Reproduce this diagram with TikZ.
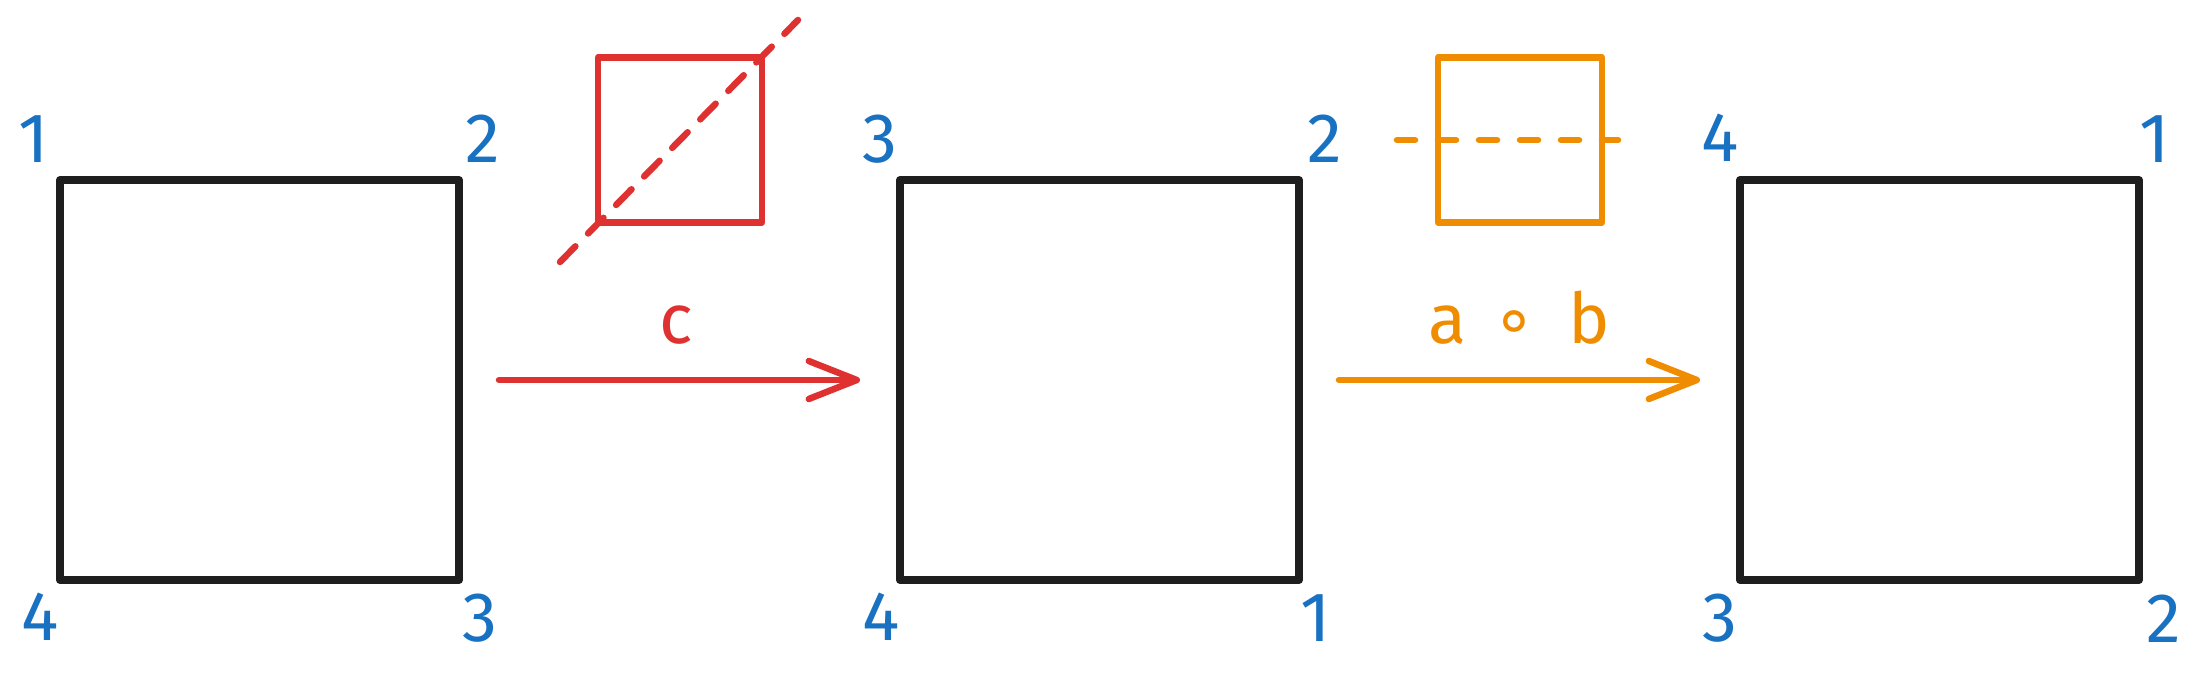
\documentclass[tikz,border=0pt]{standalone}
\usepackage{fontspec}
\setmainfont{Fira Sans}
\newfontfamily\symfont{DejaVu Sans}
\usetikzlibrary{arrows.meta}
\definecolor{ink}{HTML}{1E1E1E}
\definecolor{lblue}{HTML}{1971C2}
\definecolor{lred}{HTML}{E03131}
\definecolor{lorange}{HTML}{F08C00}
\begin{document}
\begin{tikzpicture}[x=1pt,y=-1pt,
  bigsq/.style={draw=ink, line width=8pt, line join=round, minimum width=399pt, minimum height=400pt, inner sep=0pt},
  smallsq/.style={line width=6.5pt, line join=round, minimum width=164pt, minimum height=165pt, inner sep=0pt},
  num/.style={text=lblue, font=\fontsize{70}{70}\selectfont, inner sep=0pt},
  lbl/.style={font=\fontsize{70}{70}\selectfont, inner sep=0pt, anchor=base},
  redline/.style={draw=lred, line width=6.5pt, line cap=round, line join=round},
  orangeline/.style={draw=lorange, line width=6.5pt, line cap=round, line join=round},
  barb/.style={-{Straight Barb[length=48pt,width=38pt,round]}}
]
\useasboundingbox (0,0) rectangle (2210,690);
% big squares
\node[bigsq] (s1) at (259.5,380) {};
\node[bigsq] (s2) at (1099.5,380) {};
\node[bigsq] (s3) at (1939.5,380) {};
% corner numbers
\node[num] (s1a) at (34,139) {1};
\node[num] (s1b) at (483,139) {2};
\node[num] (s1c) at (40,617) {4};
\node[num] (s1d) at (480,618) {3};
\node[num] (s2a) at (880,139) {3};
\node[num] (s2b) at (1325,139) {2};
\node[num] (s2c) at (881,617) {4};
\node[num] (s2d) at (1316,618) {1};
\node[num] (s3a) at (1720,138) {4};
\node[num] (s3b) at (2155,139) {1};
\node[num] (s3c) at (1720,618) {3};
\node[num] (s3d) at (2164,619) {2};
% small squares
\node[smallsq, draw=lred] (rsq) at (680,140) {};
\node[smallsq, draw=lorange] (osq) at (1520,140) {};
\coordinate (rd1) at (560,262);
\coordinate (rd2) at (798,20);
\draw[redline, dash pattern=on 22pt off 18pt] (rd1) -- (rd2);
\coordinate (od1) at (1397,140);
\coordinate (od2) at (1618,140);
\draw[orangeline, dash pattern=on 18pt off 23pt] (od1) -- (od2);
% arrows
\draw[redline, barb, shorten <=36pt, shorten >=36pt] (s1) -- (s2);
\draw[orangeline, barb, shorten <=36pt, shorten >=36pt] (s2) -- (s3);
% labels
\node[lbl, text=lred] (lc) at (676,343) {c};
\node[lbl, text=lorange] (lab) at (1519,343) {a\hspace{26pt}{\symfont ∘}\hspace{32pt}b};
\end{tikzpicture}
\end{document}
